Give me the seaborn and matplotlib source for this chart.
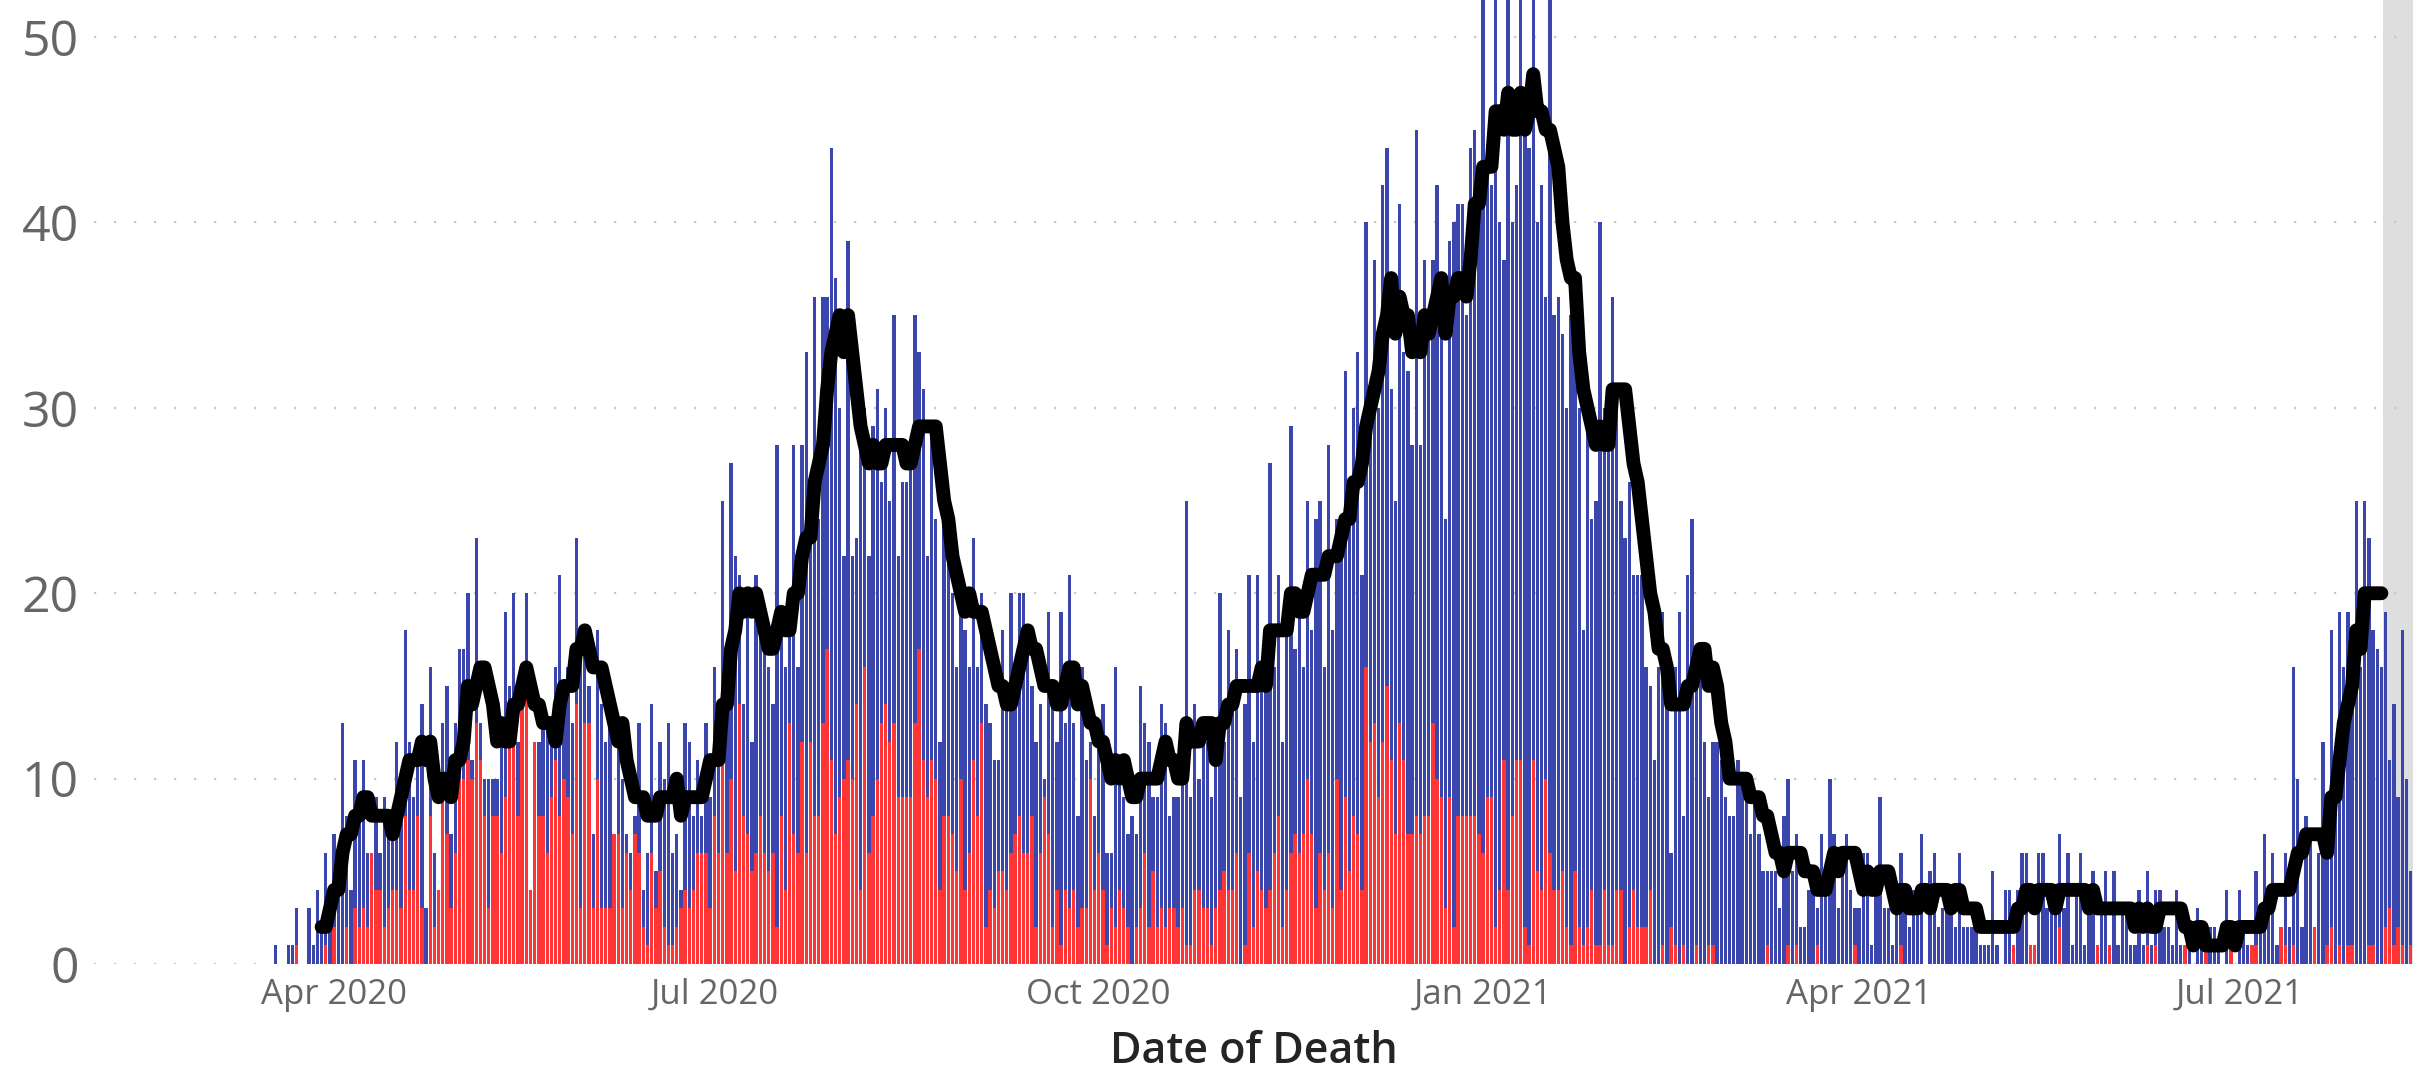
import numpy as np
import pandas as pd
import matplotlib
matplotlib.use("Agg")
import matplotlib.pyplot as plt
import matplotlib.dates as mdates
import seaborn as sns

# daily deaths: total (blue) and subset (red), one list per month
total_2020_03 = [1,0,0,1,1,3,0,0,3,1,4,2,6,4]  # from Mar 18
total_2020_04 = [7,6,13,8,4,11,9,11,6,6,9,6,9,8,8,12,9,18,12,9,12,14,3,16,6,4,13,15,7,13]
total_2020_05 = [17,17,20,11,23,13,10,10,10,10,12,19,15,20,12,15,20,4,12,12,14,13,13,16,21,15,16,13,23,18,18]
total_2020_06 = [15,7,18,14,12,15,7,12,10,7,6,8,13,4,6,14,5,12,10,13,6,7,4,13,12,8,11,8,13,9]
total_2020_07 = [16,13,25,14,27,22,21,14,20,12,21,20,17,16,14,28,18,16,19,28,16,28,33,24,36,24,36,36,44,37,30]
total_2020_08 = [22,39,22,23,29,30,22,29,31,26,30,25,35,22,26,26,27,35,33,31,22,29,24,12,27,22,20,16,21,18,16]
total_2020_09 = [23,16,20,14,13,11,11,18,14,20,15,20,20,17,15,12,14,10,19,15,12,19,13,21,13,8,16,11,12,8]
total_2020_10 = [13,14,6,6,16,10,9,7,8,7,15,13,12,9,9,14,13,8,9,9,11,25,9,14,10,12,12,9,13,20,12]
total_2020_11 = [18,14,17,9,14,21,12,21,15,16,27,16,21,12,19,29,17,20,16,25,18,24,25,16,28,18,24,24,32,24]
total_2020_12 = [30,33,21,40,31,38,30,42,44,31,25,41,33,32,28,45,28,38,34,38,42,34,24,39,40,41,41,35,44,45,42]
total_2021_01 = [52,44,42,56,40,38,54,40,42,56,45,44,54,40,42,36,55,35,36,34,30,35,33,30,18,31,24,25,40,30,30]
total_2021_02 = [36,30,25,23,26,21,21,21,16,15,11,16,19,14,6,16,19,8,21,24,16,17,12,9,12,12,11,9]
total_2021_03 = [8,8,11,10,10,7,9,7,5,5,5,5,3,8,10,5,7,2,2,4,4,3,7,4,10,7,3,5,7,4,3]
total_2021_04 = [3,6,6,1,4,9,3,3,1,3,6,3,2,4,3,7,0,5,6,2,3,3,4,2,6,2,2,2,2,1]
total_2021_05 = [1,1,5,1,0,4,4,1,4,6,6,1,1,6,6,3,3,3,7,3,6,1,4,6,1,3,5,1,3,5,1]
total_2021_06 = [5,1,3,3,1,1,4,1,5,1,4,4,2,2,1,4,1,1,1,0,3,1,1,2,2,1,0,4,1,0]
total_2021_07 = [4,2,1,1,5,3,7,3,6,1,2,6,2,16,10,2,8,7,2,6,12,7,18,10,19,16,19,17,25,16,25]
total_2021_08 = [23,18,17,16,19,11,14,9,18,10,5]

subset_2020_03 = [0,0,0,0,0,1,0,0,0,0,0,0,1,0]
subset_2020_04 = [2,0,0,2,0,3,2,3,2,6,4,4,2,3,4,4,3,8,4,4,8,3,0,8,2,4,10,7,3,6]
subset_2020_05 = [10,10,11,10,13,11,8,3,8,8,6,9,12,13,8,15,15,4,12,8,8,6,9,11,8,10,9,7,14,3,13]
subset_2020_06 = [13,3,10,3,3,3,7,7,3,6,4,7,6,2,1,6,3,5,2,1,1,2,3,4,3,4,6,6,6,3]
subset_2020_07 = [8,6,14,6,10,5,14,8,7,5,6,8,6,5,6,2,8,4,13,7,6,12,6,12,8,8,13,17,11,7,9]
subset_2020_08 = [10,11,10,14,4,16,6,8,10,13,14,12,13,9,9,9,9,13,17,11,9,11,10,4,8,8,7,5,10,4,6]
subset_2020_09 = [11,8,13,2,4,3,5,5,4,6,7,8,6,6,8,2,6,9,7,2,4,1,4,3,4,2,3,3,10,4]
subset_2020_10 = [6,4,1,3,2,4,3,2,0,2,3,6,2,5,2,3,2,3,3,2,3,1,1,4,4,3,3,1,3,4,5]
subset_2020_11 = [4,4,6,0,1,6,2,5,4,3,4,6,8,2,4,6,7,6,7,10,7,3,6,4,6,3,10,4,9,5]
subset_2020_12 = [8,7,4,16,12,13,9,12,15,11,7,13,11,7,7,8,7,8,8,13,10,9,3,9,2,8,8,8,8,8,7]
subset_2021_01 = [6,9,9,2,4,11,4,8,11,11,2,1,11,5,4,10,6,4,4,5,2,1,5,2,1,2,4,1,1,4,1]
subset_2021_02 = [1,4,4,0,2,4,2,2,2,4,0,0,1,0,2,1,0,1,0,0,1,0,0,1,1,0,0,0]
subset_2021_03 = [0,0,0,0,0,0,0,0,0,1,0,0,0,0,1,0,1,0,0,0,0,1,0,0,0,0,0,0,0,0,1]
subset_2021_04 = [0,0,0,0,0,0,0,0,0,0,1,0,0,0,0,0,0,0,0,0,0,0,0,0,0,0,0,0,0,0]
subset_2021_05 = [0,0,0,0,0,0,0,1,0,0,0,1,1,0,0,0,0,0,2,0,0,0,0,0,0,0,0,1,0,0,1]
subset_2021_06 = [0,0,0,0,0,0,0,0,1,0,1,0,0,0,0,0,0,1,0,0,0,0,1,0,0,0,0,0,1,0]
subset_2021_07 = [0,0,0,1,1,0,0,0,0,0,2,1,0,1,0,0,0,0,2,0,0,1,2,0,1,0,1,1,0,0,0]
subset_2021_08 = [1,1,0,0,2,3,1,2,1,0,1]

month_starts = ["2020-03-18", "2020-04-01", "2020-05-01", "2020-06-01", "2020-07-01",
                "2020-08-01", "2020-09-01", "2020-10-01", "2020-11-01", "2020-12-01",
                "2021-01-01", "2021-02-01", "2021-03-01", "2021-04-01", "2021-05-01",
                "2021-06-01", "2021-07-01", "2021-08-01"]
totals = [total_2020_03, total_2020_04, total_2020_05, total_2020_06, total_2020_07,
          total_2020_08, total_2020_09, total_2020_10, total_2020_11, total_2020_12,
          total_2021_01, total_2021_02, total_2021_03, total_2021_04, total_2021_05,
          total_2021_06, total_2021_07, total_2021_08]
subsets = [subset_2020_03, subset_2020_04, subset_2020_05, subset_2020_06, subset_2020_07,
           subset_2020_08, subset_2020_09, subset_2020_10, subset_2020_11, subset_2020_12,
           subset_2021_01, subset_2021_02, subset_2021_03, subset_2021_04, subset_2021_05,
           subset_2021_06, subset_2021_07, subset_2021_08]

frames = []
for start, tot, sub in zip(month_starts, totals, subsets):
    d = pd.date_range(start, periods=len(tot), freq="D")
    frames.append(pd.DataFrame({"date": d, "total": tot, "subset": sub}))
df = pd.concat(frames, ignore_index=True)
df["subset"] = np.minimum(df["subset"], df["total"])

# 7 day rolling average, shown up to the start of the incomplete week
df["avg"] = df["total"].rolling(7).mean().round()
line = df[(df["date"] >= "2020-03-29") & (df["date"] <= "2021-08-04")]

BLUE = "#3A46AD"
RED = "#FF3434"
GRID = "#C8C8C8"
TICK = "#666666"

sns.set_style("white")
plt.rcParams["font.family"] = ["Open Sans", "DejaVu Sans"]

fig = plt.figure(figsize=(24.33, 10.81), dpi=100)
ax = fig.add_axes([0.0386, 0.1082, 0.9532, 0.8918])

ax.axvspan(pd.Timestamp("2021-08-04 08:00"), pd.Timestamp("2021-08-11 14:00"),
           color="#DEDEDE", zorder=0, lw=0)
ax.bar(df["date"], df["total"], width=0.8, color=BLUE, zorder=2, lw=0)
ax.bar(df["date"], df["subset"], width=0.8, color=RED, zorder=3, lw=0)
sns.lineplot(data=line, x="date", y="avg", color="black", lw=10, ax=ax, zorder=4,
             solid_capstyle="round", solid_joinstyle="round")

ax.set_ylim(0, 52)
ax.set_xlim(pd.Timestamp("2020-02-03 12:00"), pd.Timestamp("2021-08-11 14:00"))
ax.set_yticks(range(0, 51, 10))
ax.yaxis.grid(True, linestyle=(0, (1, 8)), color=GRID, lw=1.6)
ax.xaxis.grid(False)
ax.set_axisbelow(True)

ax.xaxis.set_major_locator(mdates.MonthLocator(bymonth=[1, 4, 7, 10]))
ax.xaxis.set_major_formatter(mdates.DateFormatter("%b %Y"))
ax.tick_params(axis="y", length=0, labelsize=36, labelcolor=TICK, pad=11)
ax.tick_params(axis="x", length=0, labelsize=25, labelcolor=TICK, pad=10)

ax.set_ylabel("")
ax.set_xlabel("Date of Death", fontsize=31, color="#252423", fontweight="semibold", labelpad=13)
for s in ax.spines.values():
    s.set_visible(False)

fig.savefig("out.png", dpi=100)
